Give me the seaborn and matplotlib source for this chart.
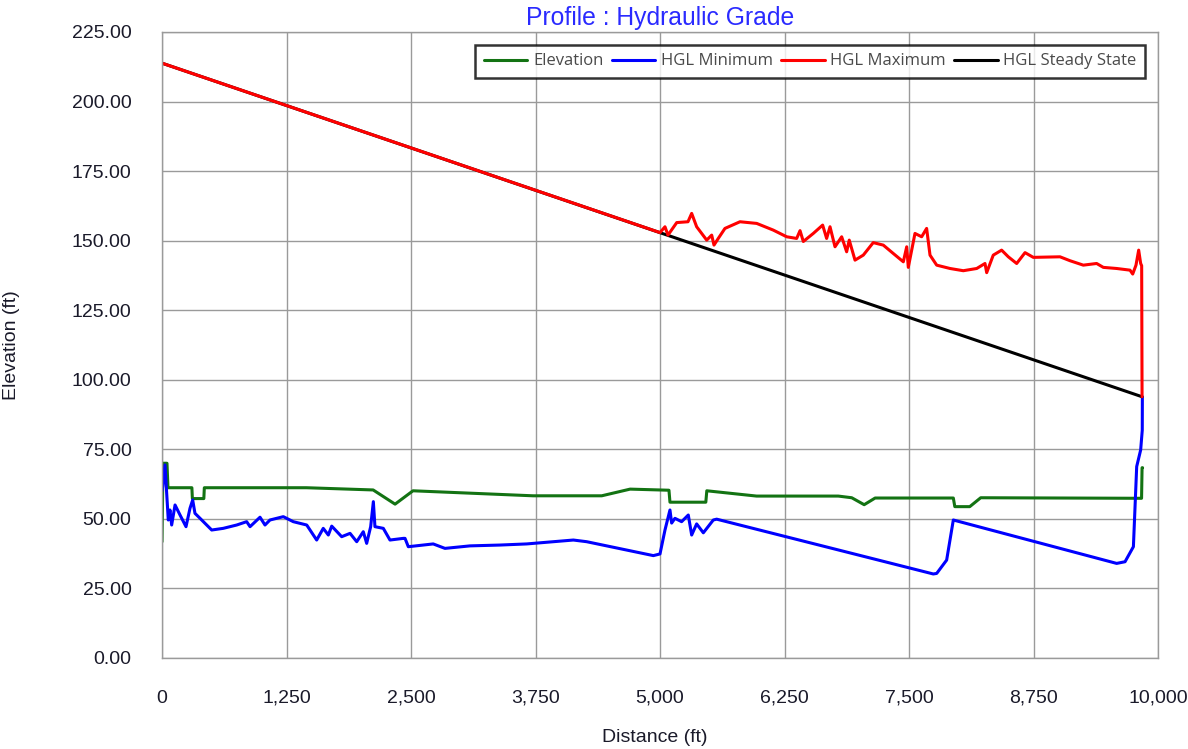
import numpy as np
import pandas as pd
import seaborn as sns
import matplotlib.pyplot as plt
from matplotlib.ticker import FuncFormatter

# distance (ft) / elevation (ft)
elev_x = [0, 10, 50, 60, 300, 305, 420, 425, 1450, 2120, 2340, 2520, 3725, 4415, 4700,
          5090, 5100, 5460, 5470, 5970, 6790, 6925, 7050, 7160, 7945, 7960, 8110, 8220,
          9835, 9840, 9845]
elev_y = [41.8, 70.0, 70.0, 61.2, 61.2, 57.3, 57.3, 61.2, 61.2, 60.4, 55.3, 60.1, 58.3,
          58.3, 60.7, 60.3, 56.0, 56.0, 60.1, 58.2, 58.2, 57.6, 55.1, 57.5, 57.5, 54.4,
          54.4, 57.6, 57.4, 68.4, 68.4]

hmin_x = [0, 7, 30, 63, 80, 97, 131, 181, 241, 281, 308, 331, 382, 432, 499, 615, 750,
          850, 884, 984, 1034, 1084, 1218, 1318, 1453, 1553, 1619, 1670, 1704, 1804, 1888,
          1955, 2021, 2055, 2095, 2122, 2138, 2222, 2289, 2423, 2440, 2473, 2723, 2841,
          3092, 3394, 3662, 3829, 4130, 4264, 4933, 5000, 5050, 5100, 5117, 5150, 5217,
          5284, 5318, 5368, 5435, 5535, 5569, 7744, 7778, 7878, 7945, 9585, 9669, 9753,
          9786, 9826, 9842, 9843]
hmin_y = [60.0, 61.6, 69.4, 49.6, 53.2, 47.8, 55.0, 51.4, 47.2, 53.8, 56.8, 52.0, 50.2,
          48.4, 46.0, 46.6, 47.8, 49.0, 47.2, 50.6, 47.8, 49.6, 50.8, 49.0, 47.8, 42.4,
          46.6, 44.2, 47.4, 43.6, 44.8, 41.8, 45.4, 41.2, 47.2, 56.2, 47.2, 46.6, 42.4,
          43.0, 43.0, 40.0, 41.0, 39.4, 40.3, 40.6, 41.0, 41.5, 42.4, 41.8, 36.8, 37.4,
          46.0, 53.2, 48.5, 50.2, 49.0, 51.4, 44.2, 48.2, 45.0, 49.6, 49.9, 30.2, 30.4,
          35.2, 49.6, 34.0, 34.6, 40.0, 68.8, 74.8, 81.9, 93.9]

hmax_x = [0, 5000, 5050, 5080, 5168, 5281, 5318, 5368, 5469, 5519, 5542, 5585, 5652,
          5803, 5971, 6137, 6272, 6372, 6406, 6439, 6539, 6633, 6673, 6707, 6757, 6824,
          6874, 6900, 6958, 7041, 7141, 7242, 7342, 7443, 7477, 7493, 7560, 7627, 7677,
          7711, 7778, 7912, 8045, 8180, 8263, 8280, 8346, 8430, 8497, 8581, 8665, 8748,
          9016, 9116, 9250, 9384, 9451, 9585, 9719, 9746, 9779, 9806, 9826, 9836, 9840]
hmax_y = [213.8, 152.9, 155.0, 152.0, 156.5, 156.8, 159.8, 155.0, 150.2, 152.0, 148.4,
          150.8, 154.4, 156.8, 156.2, 153.8, 151.4, 150.8, 153.6, 149.7, 152.6, 155.6,
          150.8, 155.0, 147.8, 151.4, 146.0, 150.2, 143.0, 144.8, 149.3, 148.4, 145.4,
          142.4, 147.8, 140.4, 152.6, 151.4, 154.4, 144.8, 141.2, 140.0, 139.2, 140.0,
          141.8, 138.5, 144.8, 146.6, 144.2, 141.8, 145.7, 144.0, 144.2, 142.8, 141.2,
          141.8, 140.4, 140.0, 139.4, 138.0, 141.2, 146.6, 141.8, 141.0, 93.9]

steady_x = [0, 9840]
steady_y = [213.8, 93.9]

x_ticks = np.arange(0, 10001, 1250)
y_ticks = np.arange(0, 226, 25)

sns.set_style("white")
plt.rcParams['font.family'] = ['Liberation Sans', 'DejaVu Sans']

fig = plt.figure(figsize=(11.88, 7.49), dpi=100)
ax = fig.add_axes([162/1188, 91/749, 996/1188, 626/749])

sns.lineplot(x=elev_x, y=elev_y, sort=False, estimator=None, color='#137313', lw=2.2,
             label='Elevation', ax=ax)
sns.lineplot(x=hmin_x, y=hmin_y, sort=False, estimator=None, color='#0000ff', lw=2.2,
             label='HGL Minimum', ax=ax)
sns.lineplot(x=steady_x, y=steady_y, sort=False, estimator=None, color='black', lw=2.2,
             label='HGL Steady State', ax=ax)
sns.lineplot(x=hmax_x, y=hmax_y, sort=False, estimator=None, color='#ff0000', lw=2.2,
             label='HGL Maximum', ax=ax)

ax.set_xlim(0, 10000)
ax.set_ylim(0, 225)
ax.set_xticks(x_ticks)
ax.set_yticks(y_ticks)
ax.xaxis.set_major_formatter(FuncFormatter(lambda v, p: f'{v:,.0f}'))
ax.yaxis.set_major_formatter(FuncFormatter(lambda v, p: f'{v:.2f}'))
ax.tick_params(length=0, labelsize=14, colors='#1a1a2a')
ax.tick_params(axis='x', pad=23)
ax.tick_params(axis='y', pad=22)
ax.grid(True, color='#9a9a9a', lw=1)
for s in ax.spines.values():
    s.set_color('#9a9a9a')
    s.set_linewidth(1)

ax.set_xlabel('Distance (ft)', fontsize=14, color='#1a1a2a')
ax.set_ylabel('Elevation (ft)', fontsize=14, color='#1a1a2a')
ax.xaxis.set_label_coords(0.495, -0.113)
ax.yaxis.set_label_coords(-0.143, 0.5)
ax.set_title('Profile : Hydraulic Grade', fontsize=17.8, color='#2a2aff', pad=5)

h, l = ax.get_legend_handles_labels()
order = [0, 1, 3, 2]
leg = ax.legend([h[i] for i in order], [l[i] for i in order], loc='upper right',
                bbox_to_anchor=(0.987, 0.979), ncol=4, frameon=True,
                fancybox=False, edgecolor='black', handlelength=2.6, handletextpad=0.35,
                columnspacing=0.5, borderpad=0.5, borderaxespad=0,
                prop={'family': 'Open Sans', 'size': 12})
leg.get_frame().set_linewidth(1.8)
for t in leg.get_texts():
    t.set_color('#4a4a4a')

fig.savefig('out.png', dpi=100)
